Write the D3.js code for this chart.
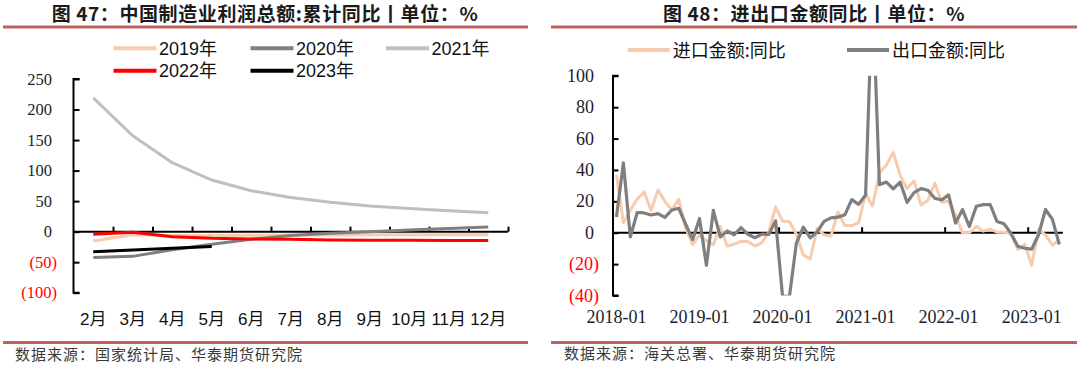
<!DOCTYPE html>
<html><head><meta charset="utf-8">
<script src="https://cdn.jsdelivr.net/npm/d3@7"></script>
<style>body{margin:0;background:#fff}svg{display:block}</style>
</head><body>
<svg id="c" width="1080" height="367"></svg>
<script>
// ---------- Left chart data ----------
const leftMonths = ["2月","3月","4月","5月","6月","7月","8月","9月","10月","11月","12月"];
const profit2019 = [-15.3,-5,-6.5,-6.5,-6,-5.5,-5.5,-5,-5,-5,-5];
const profit2020 = [-42.5,-40.5,-29.5,-20.5,-12.5,-6.5,-2.5,0,2.8,5,7.6];
const profit2021 = [219,157,113,84.5,67,56,48,42,38,34.4,31];
const profit2022 = [-4.3,-1,-8.2,-10.9,-12,-12.5,-13.5,-14,-14.2,-14.5,-14.5];
const profit2023 = [-32.8,-30,-27.3,-24.5];
const leftSeriesNames = ["2019年","2020年","2021年","2022年","2023年"];
const leftYTicks = [250,200,150,100,50,0,-50,-100];

// ---------- Right chart data ----------
const tradeMonths = d3.timeMonth.range(new Date(2018,0,1), new Date(2023,5,1)).map(d3.timeFormat("%Y-%m"));
const importYoY = [
  36.9,6.3,14.4,21.5,26.0,14.1,27.3,20.0,14.3,21.4,3.0,-7.6,
  -1.5,-5.2,-7.6,4.0,-8.5,-7.3,-5.6,-5.6,-8.5,-6.4,0.3,16.3,
  7.5,7.0,-1.0,-14.2,-16.7,2.7,-1.4,-2.1,13.2,4.7,4.5,6.5,
  25,17,38.1,43.1,51.1,36.7,28.1,33.1,17.6,20.6,31.7,19.5,
  20,11,-0.1,0.0,4.1,1.0,2.3,0.3,0.3,-0.7,-10.6,-7.5,
  -20.7,2,-1.4,-7.9,-4.5];
const exportYoY = [
  10,44.5,-2.7,12.9,12.6,11.3,12.2,9.8,14.5,15.6,5.4,-4.4,
  9.1,-20.8,14.2,-2.7,1.1,-1.3,3.3,-1.0,-3.2,-0.9,-1.1,7.6,
  -40.6,-40.6,-6.6,3.5,-3.3,0.5,7.2,9.5,9.9,11.4,21.1,18.1,
  24,154.9,30.6,32.3,27.9,32.2,19.3,25.6,28.1,27.1,22.0,20.9,
  24.1,6.2,14.7,3.9,16.9,17.9,18.0,7.1,5.7,-0.3,-8.7,-9.9,
  -10.5,-1.3,14.8,8.5,-7.5];
const rightSeriesNames = ["进口金额:同比","出口金额:同比"];
const rightYTicks = [100,80,60,40,20,0,-20,-40];
const rightXLabels = ["2018-01","2019-01","2020-01","2021-01","2022-01","2023-01"];

const svg = d3.select("#c");
const ruleColor = "#c0605e";
const serif = "'Liberation Serif','Times New Roman',serif";
const sans = "'Liberation Sans',Arial,'Noto Sans CJK SC',sans-serif";
const cjk = "'Noto Sans CJK SC','Liberation Sans',sans-serif";

function header(x0,x1,title,cx){
  svg.append("text").attr("x",cx).attr("y",21).attr("text-anchor","middle")
    .attr("font-family",cjk).attr("font-weight","bold").attr("font-size",19)
    .attr("fill","#1a1a1a").attr("letter-spacing",0.6).text(title);
  svg.append("line").attr("x1",x0).attr("x2",x1).attr("y1",27).attr("y2",27)
    .attr("stroke",ruleColor).attr("stroke-width",3);
  svg.append("line").attr("x1",x0).attr("x2",x1).attr("y1",342.5).attr("y2",342.5)
    .attr("stroke",ruleColor).attr("stroke-width",3);
}
header(3,528,"图 47：中国制造业利润总额:累计同比丨单位：%",265);
header(551,1077,"图 48：进出口金额同比丨单位：%",814);

svg.append("text").attr("x",15).attr("y",360).attr("font-family",cjk).attr("font-size",15)
  .attr("letter-spacing",1).attr("fill","#3a3a3a").text("数据来源：国家统计局、华泰期货研究院");
svg.append("text").attr("x",564).attr("y",359).attr("font-family",cjk).attr("font-size",15)
  .attr("letter-spacing",1).attr("fill","#3a3a3a").text("数据来源：海关总署、华泰期货研究院");

// ================= LEFT CHART =================
const LX0=73.5, LX1=508;
const xL = d3.scaleBand().domain(leftMonths).range([LX0,LX1]).padding(0);
const xLi = d3.scaleLinear().domain([0,leftMonths.length]).range([LX0,LX1]);
const yL = d3.scaleLinear().domain([-100,250]).range([292.7,79]);

const gL = svg.append("g");
// y axis
const yAxL = d3.axisRight(yL).tickValues(leftYTicks).tickSize(6).tickFormat("");
gL.append("g").attr("transform",`translate(${LX0},0)`).call(yAxL)
  .call(g=>{g.select(".domain").attr("stroke","#000").attr("stroke-width",2).attr("d",`M6,${yL(250)}H0V${yL(-100)}H6`);
            g.selectAll(".tick line").attr("stroke","#000").attr("stroke-width",2);});
gL.selectAll(".ylab").data(leftYTicks).enter().append("text")
  .attr("x",d=>d<0?57:52).attr("y",d=>yL(d)+5.5).attr("text-anchor","end")
  .attr("font-family",serif).attr("font-size",16.5)
  .attr("fill",d=>d<0?"#ff0000":"#1c1c2c")
  .text(d=>d<0?`(${-d})`:d);
// x axis at zero
const xAxL = d3.axisTop(xLi).tickValues(d3.range(1,leftMonths.length+1)).tickSize(5).tickFormat("");
gL.append("g").attr("transform",`translate(0,${yL(0)})`).call(xAxL)
  .call(g=>{g.select(".domain").attr("stroke","#000").attr("stroke-width",2).attr("d",`M${LX0},0H${LX1}`);
            g.selectAll(".tick line").attr("stroke","#000").attr("stroke-width",2);});
gL.selectAll(".xlab").data(leftMonths).enter().append("text")
  .attr("x",d=>xL(d)+xL.bandwidth()/2).attr("y",324.5).attr("text-anchor","middle")
  .attr("font-family",sans).attr("font-size",17).attr("fill","#111").text(d=>d);

const leftSeries = [
  {name:leftSeriesNames[0], v:profit2019, c:"#f8cbad"},
  {name:leftSeriesNames[1], v:profit2020, c:"#7f7f7f"},
  {name:leftSeriesNames[2], v:profit2021, c:"#bfbfbf"},
  {name:leftSeriesNames[3], v:profit2022, c:"#ff0000"},
  {name:leftSeriesNames[4], v:profit2023, c:"#000000"}
];
const lineL = d3.line().x((d,i)=>xL(leftMonths[i])+xL.bandwidth()/2).y(d=>yL(d));
leftSeries.forEach(s=>{
  gL.append("path").attr("d",lineL(s.v)).attr("fill","none").attr("stroke",s.c)
    .attr("stroke-width",3).attr("stroke-linejoin","round");
});
// legend
const legPos = [[113.5,48.3],[250.5,48.3],[386,48.3],[113.5,70.7],[250.5,70.7]];
leftSeries.forEach((s,i)=>{
  const [lx,ly]=legPos[i];
  svg.append("line").attr("x1",lx).attr("x2",lx+43).attr("y1",ly).attr("y2",ly)
    .attr("stroke",s.c).attr("stroke-width",4);
  svg.append("text").attr("x",lx+45.5).attr("y",ly+6.5).attr("font-family",sans)
    .attr("font-size",18).attr("fill","#111").text(s.name);
});

// ================= RIGHT CHART =================
const RX0=613, RX1=1062.8;
const xR = d3.scaleBand().domain(tradeMonths).range([RX0,RX1]).padding(0);
const yR = d3.scaleLinear().domain([-40,100]).range([295.5,75.8]);
const gR = svg.append("g");
const yAxR = d3.axisRight(yR).tickValues(rightYTicks).tickSize(5.5).tickFormat("");
gR.append("g").attr("transform",`translate(${RX0},0)`).call(yAxR)
  .call(g=>{g.select(".domain").attr("stroke","#000").attr("stroke-width",2).attr("d",`M5.5,${yR(100)}H0V${yR(-40)}H5.5`);
            g.selectAll(".tick line").attr("stroke","#000").attr("stroke-width",2);});
gR.selectAll(".ylab").data(rightYTicks).enter().append("text")
  .attr("x",d=>d<0?599:594).attr("y",d=>yR(d)+6).attr("text-anchor","end")
  .attr("font-family",serif).attr("font-size",18)
  .attr("fill",d=>d<0?"#ff0000":"#1c1c2c")
  .text(d=>d<0?`(${-d})`:d);
const yearStarts = tradeMonths.filter(m=>m.endsWith("-01") && m!=="2018-01");
const xAxR = d3.axisTop(xR).tickValues(yearStarts).tickSize(5.5).tickFormat("").offset(0);
gR.append("g").attr("transform",`translate(0,${yR(0)})`).call(xAxR)
  .call(g=>{g.select(".domain").attr("stroke","#000").attr("stroke-width",2).attr("d",`M${RX0},0H${RX1}`);
            g.selectAll(".tick").attr("transform",d=>`translate(${xR(d)},0)`);
            g.selectAll(".tick line").attr("stroke","#000").attr("stroke-width",2);});
gR.selectAll(".xlab").data(rightXLabels).enter().append("text")
  .attr("x",d=>xR(d)+xR.bandwidth()/2).attr("y",322.5).attr("text-anchor","middle")
  .attr("font-family",serif).attr("font-size",18).attr("fill","#1c1c2c").text(d=>d);

svg.append("clipPath").attr("id","clipR").append("rect")
  .attr("x",RX0).attr("y",yR(100)).attr("width",RX1-RX0+4).attr("height",yR(-40)-yR(100));
const lineR = d3.line().x((d,i)=>xR(tradeMonths[i])+xR.bandwidth()/2).y(d=>yR(d));
const rightSeries = [
  {name:rightSeriesNames[0], v:importYoY, c:"#f8cbad", w:3},
  {name:rightSeriesNames[1], v:exportYoY, c:"#7f7f7f", w:3.2}
];
rightSeries.forEach(s=>{
  gR.append("path").attr("d",lineR(s.v)).attr("fill","none").attr("stroke",s.c)
    .attr("stroke-width",s.w).attr("stroke-linejoin","round").attr("clip-path","url(#clipR)");
});
const legR = [[627.7,50],[847,50]];
rightSeries.forEach((s,i)=>{
  const [lx,ly]=legR[i];
  svg.append("line").attr("x1",lx).attr("x2",lx+42).attr("y1",ly).attr("y2",ly)
    .attr("stroke",s.c).attr("stroke-width",4);
  svg.append("text").attr("x",lx+45).attr("y",ly+6.5).attr("font-family",cjk)
    .attr("font-size",18).attr("fill","#111").text(s.name);
});
</script>
</body></html>
